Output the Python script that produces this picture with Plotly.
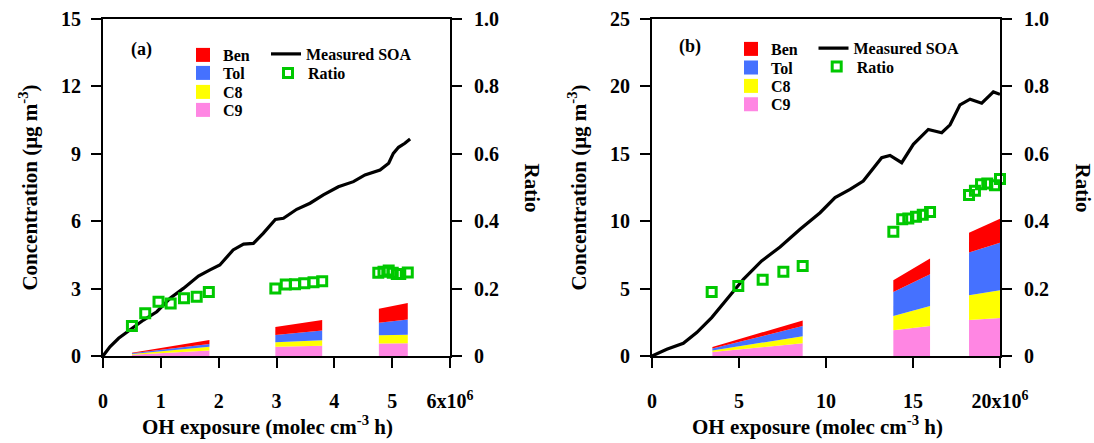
import plotly.graph_objects as go

FONT = "Liberation Serif"

# ---------------- Panel (a) data ----------------
a_soa_x = [0, 0.12, 0.27, 0.47, 0.70, 0.93, 1.16, 1.39, 1.65, 1.85, 2.02, 2.25, 2.43, 2.60, 2.77,
           2.98, 3.12, 3.35, 3.58, 3.81, 4.07, 4.33, 4.53, 4.79, 4.94, 5.02, 5.11, 5.22, 5.31]
a_soa_y = [0, 0.41, 0.79, 1.16, 1.60, 1.97, 2.57, 3.01, 3.56, 3.83, 4.05, 4.72, 4.98, 5.01, 5.46,
           6.08, 6.13, 6.53, 6.80, 7.17, 7.53, 7.76, 8.06, 8.28, 8.58, 9.02, 9.29, 9.47, 9.66]
a_ratio_x = [0.50, 0.73, 0.96, 1.17, 1.40, 1.62, 1.83, 2.98, 3.16, 3.32, 3.48, 3.64, 3.79,
             4.76, 4.85, 4.94, 5.01, 5.08, 5.14, 5.27]
a_ratio_y = [0.089, 0.127, 0.161, 0.156, 0.171, 0.176, 0.190, 0.200, 0.212, 0.213, 0.216, 0.219, 0.222,
             0.247, 0.250, 0.254, 0.247, 0.243, 0.243, 0.248]
a_seg_x = [[0.50, 1.84], [2.98, 3.79], [4.77, 5.27]]
a_c9 = [[0.06, 0.24], [0.41, 0.46], [0.56, 0.57]]
a_c8 = [[0.03, 0.17], [0.20, 0.24], [0.36, 0.38]]
a_tol = [[0.03, 0.12], [0.32, 0.43], [0.56, 0.68]]
a_ben = [[0.03, 0.18], [0.36, 0.47], [0.62, 0.73]]
a_xticks = [0, 1, 2, 3, 4, 5, 6]
a_xticktext = ["0", "1", "2", "3", "4", "5", "6x10<sup>6</sup>"]
a_yticks = [0, 3, 6, 9, 12, 15]

# ---------------- Panel (b) data ----------------
b_soa_x = [0, 0.85, 1.80, 2.57, 3.43, 4.29, 5.25, 6.30, 7.36, 8.51, 9.66, 10.52, 11.38, 12.14,
           13.20, 13.68, 14.35, 15.02, 15.88, 16.65, 17.13, 17.70, 18.28, 18.95, 19.62, 20.0]
b_soa_y = [0, 0.50, 0.94, 1.74, 2.85, 4.21, 5.69, 7.05, 8.09, 9.40, 10.63, 11.75, 12.36, 12.98,
           14.71, 14.88, 14.34, 15.70, 16.81, 16.56, 17.15, 18.63, 19.05, 18.75, 19.59, 19.41]
b_ratio_x = [3.43, 4.96, 6.36, 7.55, 8.66, 13.87, 14.38, 14.73, 15.17, 15.56, 15.98,
             18.22, 18.56, 18.91, 19.27, 19.71, 20.0]
b_ratio_y = [0.190, 0.208, 0.226, 0.250, 0.267, 0.369, 0.406, 0.408, 0.413, 0.419, 0.427,
             0.478, 0.490, 0.510, 0.512, 0.507, 0.525]
b_seg_x = [[3.47, 8.66], [13.87, 15.98], [18.22, 20.0]]
b_c9 = [[0.30, 0.95], [1.91, 2.23], [2.67, 2.82]]
b_c8 = [[0.10, 0.52], [1.06, 1.48], [1.83, 2.05]]
b_tol = [[0.15, 0.76], [1.78, 2.35], [3.17, 3.54]]
b_ben = [[0.12, 0.40], [0.87, 1.17], [1.48, 1.78]]
b_xticks = [0, 5, 10, 15, 20]
b_xticktext = ["0", "5", "10", "15", "20x10<sup>6</sup>"]
b_yticks = [0, 5, 10, 15, 20, 25]

ratio_ticks = [0, 0.2, 0.4, 0.6, 0.8, 1.0]
ratio_ticktext = ["0", "0.2", "0.4", "0.6", "0.8", "1.0"]

species_names = ["Ben", "Tol", "C8", "C9"]
species_colors = {"Ben": "#FF0000", "Tol": "#4571FF", "C8": "#FFFF00", "C9": "#FF86E3"}
stack_order = ["C9", "C8", "Tol", "Ben"]
ratio_color = "#00C800"

fig = go.Figure()


def add_panel(tag, xa, ya, ya2, seg_x, layers, soa_x, soa_y, r_x, r_y, legends):
    for k, xs in enumerate(seg_x):
        for name in stack_order:
            col = species_colors[name]
            fig.add_trace(go.Scatter(
                x=xs, y=layers[name][k], mode="lines", stackgroup=f"{tag}{k}",
                line=dict(width=0, color=col), fillcolor=col, showlegend=False,
                legendgroup=f"{tag}{name}", xaxis=xa, yaxis=ya, hoverinfo="skip"))
    # legend entries for species
    for i, name in enumerate(species_names):
        fig.add_trace(go.Scatter(
            x=[None], y=[None], mode="markers", name=name, legend=legends[i],
            legendgroup=f"{tag}{name}",
            marker=dict(symbol="square", size=14, color=species_colors[name]),
            xaxis=xa, yaxis=ya))
    fig.add_trace(go.Scatter(
        x=soa_x, y=soa_y, mode="lines", name="Measured SOA", legend=legends[4],
        line=dict(color="black", width=3.2), xaxis=xa, yaxis=ya))
    fig.add_trace(go.Scatter(
        x=r_x, y=r_y, mode="markers", name="Ratio", legend=legends[5],
        marker=dict(symbol="square-open", size=9, color=ratio_color,
                    line=dict(width=3, color=ratio_color)),
        cliponaxis=False, xaxis=xa, yaxis=ya2))


add_panel("a", "x", "y", "y2", a_seg_x,
          {"C9": a_c9, "C8": a_c8, "Tol": a_tol, "Ben": a_ben},
          a_soa_x, a_soa_y, a_ratio_x, a_ratio_y,
          ["legend", "legend2", "legend3", "legend4", "legend5", "legend6"])
add_panel("b", "x2", "y3", "y4", b_seg_x,
          {"C9": b_c9, "C8": b_c8, "Tol": b_tol, "Ben": b_ben},
          b_soa_x, b_soa_y, b_ratio_x, b_ratio_y,
          ["legend7", "legend8", "legend9", "legend10", "legend11", "legend12"])

W, H = 1094, 443
tickfont = dict(family=FONT, size=20, color="black", weight="bold")
titlefont = dict(family=FONT, size=21, color="black", weight="bold")
axis_common = dict(showline=True, linecolor="black", linewidth=2, ticks="outside",
                   ticklen=10, tickwidth=2, tickcolor="black", showgrid=False,
                   zeroline=False, tickfont=tickfont, automargin=False)

ydom = [(H - 356) / H, (H - 19) / H]
xdom_a = [103 / W, 450 / W]
xdom_b = [652 / W, 1000 / W]

y_title = dict(text="Concentration (\u03bcg m<sup>-3</sup>)", font=titlefont, standoff=18)

layout = dict(
    width=W, height=H, margin=dict(l=0, r=0, t=0, b=0, autoexpand=False),
    paper_bgcolor="white", plot_bgcolor="white",
    font=dict(family=FONT, color="black"),
    xaxis=dict(axis_common, domain=xdom_a, range=[0, 6], anchor="y", mirror=True,
               tickvals=a_xticks, ticktext=a_xticktext, ticklabelstandoff=16),
    yaxis=dict(axis_common, domain=ydom, range=[0, 15], anchor="x",
               tickvals=a_yticks, ticklabelstandoff=6, title=y_title),
    yaxis2=dict(axis_common, range=[0, 1], overlaying="y", side="right", anchor="x",
                tickvals=ratio_ticks, ticktext=ratio_ticktext, ticklabelstandoff=8),
    xaxis2=dict(axis_common, domain=xdom_b, range=[0, 20], anchor="y3", mirror=True,
                tickvals=b_xticks, ticktext=b_xticktext, ticklabelstandoff=16),
    yaxis3=dict(axis_common, domain=ydom, range=[0, 25], anchor="x2",
                tickvals=b_yticks, ticklabelstandoff=6, title=y_title),
    yaxis4=dict(axis_common, range=[0, 1], overlaying="y3", side="right", anchor="x2",
                tickvals=ratio_ticks, ticktext=ratio_ticktext, ticklabelstandoff=8),
)

legfont = dict(family=FONT, size=16, color="black", weight="bold")
# (left px, center y px) for each legend entry
leg_pos = {
    "legend": (183, 55), "legend2": (183, 73), "legend3": (183, 92), "legend4": (183, 110),
    "legend5": (266, 54), "legend6": (268, 73),
    "legend7": (731, 49), "legend8": (731, 67.7), "legend9": (731, 86), "legend10": (731, 104.3),
    "legend11": (813.5, 48.3), "legend12": (816.7, 66.7),
}
for key, (lx, cy) in leg_pos.items():
    layout[key] = dict(x=lx / W, y=(H - cy) / H, xanchor="left", yanchor="middle",
                       bgcolor="rgba(0,0,0,0)", borderwidth=0, font=legfont,
                       itemsizing="trace", itemclick=False, itemdoubleclick=False)

fig.update_layout(**layout)

annots = [
    dict(text="(a)", x=141, y=49, size=18, angle=0),
    dict(text="(b)", x=690, y=46, size=18, angle=0),
    dict(text="Ratio", x=532, y=187.5, size=21, angle=90),
    dict(text="Ratio", x=1083, y=187.5, size=21, angle=90),
    dict(text="OH exposure (molec cm<sup>-3</sup> h)", x=267, y=425, size=21, angle=0),
    dict(text="OH exposure (molec cm<sup>-3</sup> h)", x=817, y=425, size=21, angle=0),
]
for a in annots:
    fig.add_annotation(text=a["text"], xref="paper", yref="paper",
                       x=a["x"] / W, y=(H - a["y"]) / H, xanchor="center", yanchor="middle",
                       textangle=a["angle"], showarrow=False,
                       font=dict(family=FONT, size=a["size"], color="black", weight="bold"))

fig.write_html("out.html")
